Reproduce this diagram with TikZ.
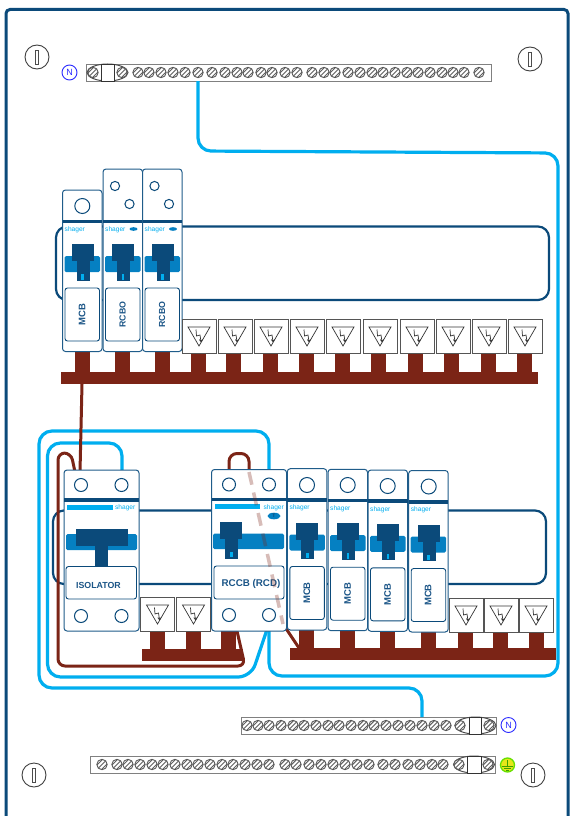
\documentclass[tikz,border=0pt]{standalone}
\usepackage{fontspec}
\setmainfont{Liberation Sans}
\definecolor{navy}{HTML}{0B4A7A}
\definecolor{modline}{HTML}{1F5C8A}
\definecolor{modink}{HTML}{1B5587}
\definecolor{bandblue}{HTML}{0580C2}
\definecolor{cyanw}{HTML}{00AEEF}
\definecolor{copper}{HTML}{7B2416}
\definecolor{termgray}{HTML}{555555}
\definecolor{badgeblue}{HTML}{2A2AFF}
\definecolor{earthring}{HTML}{66E000}
\definecolor{earthfill}{HTML}{E6E619}
\definecolor{earthmarkc}{HTML}{3DA000}
\tikzset{
  x=1pt,y=-1pt,
  frameline/.style={draw=navy,line width=3pt,rounded corners=4pt},
  panel/.style={draw=navy,line width=2.2pt,rounded corners=11pt},
  modbody/.style={draw=modline,line width=1pt,fill=white,rounded corners=3pt},
  labbox/.style={draw=navy,line width=.9pt,fill=white,rounded corners=2.5pt},
  modhole/.style={draw=navy,line width=1pt,fill=white},
  brand/.style={text=cyanw,font=\fontsize{6.6}{6.6}\selectfont,inner sep=0pt},
  modtext/.style={text=modink,font=\fontsize{8.8}{9}\selectfont\bfseries,inner sep=0pt},
  cyanwire/.style={draw=cyanw,line width=3.2pt,rounded corners=13pt},
  brownwire/.style={draw=copper,line width=3pt,rounded corners=7pt},
  fadedwire/.style={draw=copper,opacity=.3,line width=3.5pt,dash pattern=on 13pt off 8pt},
  termbox/.style={draw=termgray,line width=.9pt,fill=white},
  barbox/.style={draw=gray,line width=.9pt,fill=white},
  nbadge/.style={draw=badgeblue,line width=.9pt,circle,minimum size=15pt,inner sep=0pt,text=badgeblue,font=\fontsize{9}{9}\selectfont},
}
% screw of a neutral or earth bar
\newcommand\scr[2]{%
  \begin{scope}[shift={(#1,#2)}]
    \begin{scope}\clip (0,0) circle[radius=5.2pt];
      \fill[white] (-6,-6) rectangle (6,6);
      \draw[gray!75!black,line width=.9pt] (-6,6) -- (6,-6) (-7,2.6) -- (2.6,-7) (-2.6,7) -- (7,-2.6);
    \end{scope}
    \draw[gray!70!black,line width=.9pt] (0,0) circle[radius=5.2pt];
  \end{scope}}
% fixing screw of the enclosure
\newcommand\fixing[2]{%
  \draw[black!75,line width=.9pt,fill=white] (#1,#2) circle[radius=12pt];
  \draw[black!70,line width=.8pt,fill=white] (#1-1.7,#2-7) rectangle (#1+1.7,#2+7);}
% clamp at a bar end
\newcommand\clamp[4]{% centre x, y, line 1, line 2
  \draw[black!70,line width=1pt] (#1,#2) ellipse[x radius=20.5pt,y radius=8.5pt];
  \draw[black!80,line width=.8pt,fill=white] (#3,#2-8.5) rectangle (#4,#2+8.5);}
% single-width module: #1 name, #2 left x, #3 top y, #4 bottom y, #5 label, #6 label size
\newcommand\module[6]{%
  \begin{scope}[shift={(#2,#4)}]
    \path[modbody] (0,#3-#4) rectangle (39.5,0);
    \fill[navy] (0,-132) rectangle (39.5,-128.5);
    \fill[bandblue,rounded corners=1.5pt] (2,-95.5) rectangle (37.5,-79.5);
    \fill[navy] (9,-107.5) rectangle (31,-90.5);
    \fill[navy] (14,-91) rectangle (27,-71);
    \fill[cyanw] (18.7,-77.5) rectangle (21.3,-72);
    \path[labbox] (2.5,-63.5) rectangle (37,-10.5);
    \node[modtext,rotate=90,font=\fontsize{#6}{9}\selectfont\bfseries] (#1) at (19.5,-37) {#5};
    \node[brand,anchor=west] (#1b) at (2,-122) {shager};
  \end{scope}}
\newcommand\onehole[2]{\draw[modhole] (#1,#2) circle[radius=7.5pt];}
\newcommand\twoholes[2]{\draw[modhole] (#1+12,#2) circle[radius=4.6pt] (#1+26.5,#2+18) circle[radius=4.6pt];}
% small terminal: #1 left x, #2 top y
\newcommand\term[2]{%
  \begin{scope}[shift={(#1,#2)}]
    \path[termbox] (0,0) rectangle (34,34);
    \draw[black!80,line width=.7pt] (6,8) -- (28,8) -- (17,27) -- cycle;
    \draw[black!80,line width=.7pt] (14,10.5) -- (14.5,17) -- (18,16) -- (19,22.5) (17.3,20.5) -- (19,22.8) -- (20.6,20.5);
  \end{scope}}
\begin{document}
\begin{tikzpicture}
\useasboundingbox (0,0) rectangle (570,816);
\fill[white] (0,0) rectangle (570,816);
% enclosure
\draw[frameline] (6,830) -- (6,9.5) -- (568,9.5) -- (568,830);
% panels
\draw[panel] (56,226.5) rectangle (549,300);
\draw[panel] (53,510.5) rectangle (546,584);
% fixing screws
\fixing{37}{57}\fixing{530}{59}\fixing{34}{775}\fixing{533}{775}
% top neutral bar
\draw[barbox] (86,64) rectangle (491,81);
\clamp{107.5}{72.5}{101}{114}
\foreach \s in {93,122,138,149,161,173,185,198,212,225,237,248,261,272,285,297,312,324,335,348,360,372,383,395,407,418,430,442,453,464,479}{\scr{\s}{72.5}}
\node[nbadge] (ntop) at (69.5,72.5) {N};
% lower neutral bar
\draw[barbox] (241,717) rectangle (496,734);
\clamp{475.5}{725.5}{469}{481}
\foreach \s in {247,258,269,281,293,304,316,328,339,351,363,374,386,398,410,422,434,446,460,489}{\scr{\s}{725.5}}
\node[nbadge] (nlow) at (508.5,725) {N};
% earth bar
\draw[barbox] (90,756) rectangle (495,773);
\clamp{474}{764.5}{467}{481}
\foreach \s in {102,117,128,140,152,163,175,187,198,210,222,233,245,257,269,285,296,309,321,333,345,357,369,383,395,408,420,432,443,459,488}{\scr{\s}{764.5}}
\node[draw=earthring,fill=earthfill,line width=1.3pt,circle,minimum size=14pt,inner sep=0pt] (earthmark) at (507.5,765) {};
\draw[earthmarkc,line width=.8pt] (507.5,760) -- (507.5,766) (502,766) -- (513,766) (504,768) -- (511,768) (506,770) -- (509,770);
% copper busbars
\fill[copper] (61,372) rectangle (538,384);
\foreach \p in {82,122,162,198,233,270,306,342,378,415,451,488,524}{\fill[copper] (\p-7.5,350) rectangle (\p+7.5,373);}
\fill[copper] (142,649) rectangle (243,661);
\foreach \p in {157.5,193.5,228.5}{\fill[copper] (\p-7.5,630) rectangle (\p+7.5,650);}
\fill[copper] (290,648) rectangle (556,660);
\foreach \p in {306.5,347.5,387.5,428.5,465.5,500.5,536.5}{\fill[copper] (\p-7.5,630) rectangle (\p+7.5,649);}
% wire end points
\coordinate (bartopout) at (198,81);
\coordinate (rccbbotR) at (269,631);
\coordinate (rccbtopR) at (269,472);
\coordinate (nlowin) at (422,717);
\coordinate (isotopR) at (122,472);
\coordinate (rccbbotS) at (266.5,631);
\coordinate (busout) at (82,384);
\coordinate (isotopL) at (80,472);
\coordinate (isotopLL) at (75,472);
\coordinate (rccbbotL) at (237,631);
\coordinate (rccbtopL) at (229,472);
\coordinate (rccbtopM) at (249,472);
\coordinate (rccbbus) at (283,624);
\coordinate (busright) at (299,648);
% cyan wires
\draw[cyanwire] (bartopout) -- (198,151) -- (558,153) -- (558,676) -- (269,676) -- (rccbbotR);
\draw[cyanwire] (rccbtopR) -- (269,431) -- (39,431) -- (39,688) -- (422,688) -- (nlowin);
\draw[cyanwire] (isotopR) -- (122,443) -- (47.5,443) -- (47.5,677) -- (251,677) -- (rccbbotS);
% brown wires
\draw[copper,line width=3pt] (busout) -- (isotopL);
\draw[brownwire] (isotopLL) -- (71,453) -- (58,453) -- (58,666) -- (245,666) -- (rccbbotL);
\draw[brownwire,rounded corners=8pt] (rccbtopL) -- (229,453.5) -- (249,453.5) -- (rccbtopM);
\draw[copper,line width=3pt] (rccbbus) -- (busright);
% top row modules
\module{mcba}{62.5}{190}{351.5}{MCB}{9.5}
\onehole{82.3}{206}
\module{rcboa}{103}{169}{351.5}{RCBO}{8.8}
\twoholes{103}{186}
\module{rcbob}{142.5}{169}{351.5}{RCBO}{8.8}
\twoholes{142.5}{186}
\fill[bandblue] (133.5,229) ellipse[x radius=4pt,y radius=1.8pt];
\fill[bandblue] (173,229) ellipse[x radius=4pt,y radius=1.8pt];
\foreach \x in {182,218,254,290,326,363,400,436,472,508}{\term{\x}{319}}
% isolator
\path[modbody] (64,470) rectangle (139,631);
\fill[navy] (64,498) rectangle (139,501.5);
\fill[cyanw] (67,505) rectangle (113,510);
\node[brand,anchor=east] (isobrand) at (135.5,507.5) {shager};
\fill[bandblue,rounded corners=1.5pt] (66,534) rectangle (137,550);
\fill[navy] (76,529) rectangle (128,546);
\fill[navy] (95,546) rectangle (108,567);
\path[labbox] (66,566.5) rectangle (136.5,599);
\node[modtext,font=\fontsize{8.8}{9}\selectfont\bfseries] (isolabel) at (98.5,585) {ISOLATOR};
\draw[modhole] (81,485) circle[radius=6.5pt] (121.5,485) circle[radius=6.5pt] (81,616) circle[radius=6.5pt] (121.5,616) circle[radius=6.5pt];
\term{140.5}{597}\term{176.5}{597}
% RCCB
\path[modbody] (211.5,469.5) rectangle (286.5,631);
\fill[navy] (211.5,497.5) rectangle (286.5,501);
\fill[cyanw] (215,504) rectangle (260,509);
\node[brand,anchor=east] (rcbrand) at (284,507.5) {shager};
\fill[bandblue] (274,516) ellipse[x radius=6.5pt,y radius=3.3pt];
\node[inner sep=0pt,font=\fontsize{5}{5}\selectfont\bfseries,text=navy] (tbadge) at (274,516) {T};
\fill[bandblue,rounded corners=1.5pt] (213,533.5) rectangle (284,549);
\fill[navy] (220,521.5) rectangle (242,539);
\fill[navy] (225,539) rectangle (238,559);
\fill[cyanw] (230,552) rectangle (233,557);
\path[labbox] (214,566) rectangle (284,599);
\node[modtext,font=\fontsize{9.8}{10}\selectfont\bfseries] (rclabel) at (251,584) {RCCB (RCD)};
\draw[modhole] (229,484.5) circle[radius=6.5pt] (269,484.5) circle[radius=6.5pt] (229,615) circle[radius=6.5pt] (269,615) circle[radius=6.5pt];
% bottom row modules
\module{mcbb}{287.3}{468.7}{630}{MCB}{9.5}
\onehole{307}{485}
\module{mcbc}{328}{469.3}{630.7}{MCB}{9.5}
\onehole{347.7}{485}
\module{mcbd}{368}{470}{631.3}{MCB}{9.5}
\onehole{387.7}{486}
\module{mcbe}{408.7}{470.5}{632}{MCB}{9.5}
\onehole{428.7}{486.5}
\foreach \x in {449,484,519}{\term{\x}{598}}
% wire seen through the RCCB
\draw[fadedwire] (rccbtopM) -- (rccbbus);
\end{tikzpicture}
\end{document}
